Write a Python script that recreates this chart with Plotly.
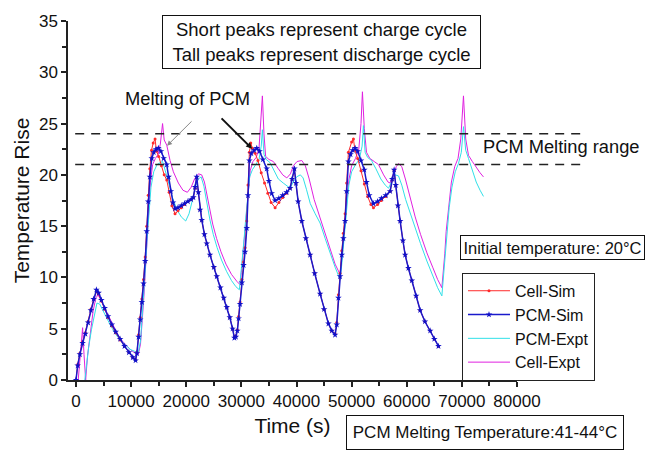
import plotly.graph_objects as go

# ---------------- data ----------------
pcm_sim_x = [0, 300, 700, 1200, 1700, 2200, 2700, 3200, 3700, 4100, 4600, 5200, 5800, 6500, 7200, 8000, 8800, 9600,
             10300, 10800, 11050, 11350, 11650, 11950, 12250, 12550, 12830, 13100, 13400, 13740, 14100, 14500, 14940,
             15400, 15900, 16460, 16800, 17200, 17600, 17970, 18500, 19100, 19700, 20300, 20900, 21290, 21600, 21900,
             22200, 22500, 22810, 23300, 23720, 24300, 25000, 25530, 26200, 26800, 27350, 27900, 28400, 28730, 29000,
             29270, 29500, 29760, 30100, 30400, 30670, 30980, 31200, 31450, 31800, 32300, 32790, 33300, 33900, 34600,
             35000, 35500, 36120, 36800, 37500, 38200, 38840, 39200, 39620, 39900, 40300, 40960, 41700, 42470, 43300,
             44280, 45000, 45790, 46400, 47000, 47300, 47600, 47900, 48220, 48500, 48820, 49100, 49420, 49800, 50200,
             50640, 51100, 51700, 52300, 52700, 53200, 53960, 54700, 55400, 56200, 56990, 57350, 57710, 58000, 58400,
             58800, 59300, 59710, 60300, 60920, 61700, 62430, 63300, 64250, 65000, 65750]
pcm_sim_y = [0, 1.4, 2.5, 3.6, 4.5, 5.6, 6.8, 7.9, 8.8, 8.5, 7.8, 7.0, 6.2, 5.4, 4.7, 4.0, 3.3, 2.7,
             2.2, 1.9, 2.6, 4.2, 5.9, 7.6, 9.4, 11.6, 14.5, 17.4, 19.8, 21.6, 22.2, 22.5, 22.6,
             22.3, 21.6, 21.0, 19.8, 18.4, 17.3, 16.7, 16.8, 17.0, 17.2, 17.4, 17.6, 17.8, 18.8, 19.8,
             18.3, 16.6, 15.6, 14.2, 13.3, 12.2, 11.0, 10.1, 9.0, 8.0, 7.1, 6.1, 5.0, 4.1, 4.2,
             4.8, 6.0, 7.4, 9.5, 11.2, 12.5, 14.8, 18.0, 21.4, 22.1, 22.4, 22.6, 22.3, 21.5, 20.6,
             19.4, 18.2, 17.5, 17.7, 18.0, 18.3, 18.7, 19.6, 20.6, 19.2, 17.4, 15.5, 13.8, 12.2, 10.4,
             8.4, 6.9, 5.5, 4.8, 4.4, 5.4, 8.0, 10.1, 12.2, 13.8, 15.5, 18.4, 21.3, 22.0, 22.4,
             22.6, 22.3, 21.4, 20.5, 19.3, 18.0, 17.2, 17.4, 17.7, 18.0, 18.4, 19.6, 20.5, 19.0, 17.0,
             15.5, 13.6, 12.2, 10.9, 9.7, 8.2, 6.8, 5.7, 4.8, 4.0, 3.3]

cell_sim_x = [0, 300, 700, 1200, 1700, 2200, 2700, 3200, 3700, 4100, 4600, 5200, 5800, 6500, 7200, 8000, 8800, 9600,
              10300, 10800, 11050, 11350, 11650, 11950, 12250, 12550, 12830, 13100, 13400, 13700, 14000, 14340, 14600,
              15000, 15500, 16000, 16460, 16900, 17400, 17970, 18500, 19100, 19700, 20300, 20900, 21290, 21600, 21900,
              22200, 22500, 22810, 23300, 23720, 24300, 25000, 25530, 26200, 26800, 27350, 27900, 28400, 28730, 29000,
              29270, 29500, 29760, 30100, 30400, 30670, 30980, 31200, 31450, 31700, 32000, 32500, 33000, 33600, 34200,
              34800, 35400, 36120, 36800, 37500, 38200, 38840, 39200, 39620, 39900, 40300, 40960, 41700, 42470, 43300,
              44280, 45000, 45790, 46400, 47000, 47300, 47600, 47900, 48220, 48500, 48820, 49100, 49420, 50000, 50330,
              50600, 51100, 51700, 52300, 52900, 53500, 53960, 54700, 55400, 56200, 56990, 57350, 57710, 58000, 58400,
              58800, 59300, 59710, 60300, 60920, 61700, 62430, 63300, 64250, 65000, 65750]
cell_sim_y = [0, 1.5, 2.6, 3.7, 4.6, 5.7, 6.9, 7.9, 8.6, 8.4, 7.7, 6.9, 6.1, 5.3, 4.6, 3.9, 3.3, 2.7,
              2.2, 2.0, 2.7, 4.4, 6.1, 7.9, 9.8, 12.0, 15.0, 18.0, 20.6, 22.4, 23.1, 23.5, 22.3,
              21.8, 20.9, 20.0, 19.5, 18.3, 17.0, 16.2, 16.5, 16.8, 17.1, 17.4, 17.6, 17.8, 18.7, 19.7,
              18.3, 16.6, 15.6, 14.2, 13.3, 12.2, 11.0, 10.1, 9.0, 8.0, 7.1, 6.1, 5.0, 4.2, 4.3,
              4.9, 6.2, 7.6, 9.8, 11.5, 12.9, 15.5, 19.0, 22.2, 23.1, 22.6, 22.1, 21.4, 20.2, 19.2,
              18.2, 17.3, 16.8, 17.3, 17.8, 18.2, 18.7, 19.6, 20.5, 19.2, 17.4, 15.5, 13.8, 12.2, 10.4,
              8.4, 6.9, 5.5, 4.8, 4.5, 5.6, 8.3, 10.4, 12.6, 14.3, 16.2, 19.2, 22.2, 23.2, 23.5,
              22.4, 21.6, 20.4, 19.1, 17.9, 17.1, 16.8, 17.1, 17.5, 17.9, 18.4, 19.5, 20.4, 19.0, 17.0,
              15.5, 13.6, 12.2, 10.9, 9.7, 8.2, 6.8, 5.7, 4.8, 4.0, 3.3]

pcm_expt_x = [1600, 1900, 2300, 2800, 3300, 3800, 4300, 5000, 5800, 6600, 7400, 8200, 9000, 9800, 10600, 11300,
              11700, 12000, 12300, 12600, 12900, 13200, 13600, 14100, 14700, 15300, 15700, 16200, 16800, 17500,
              18300, 19100, 19900, 20500, 21100, 21700, 22200, 22700, 23200, 23700, 24300, 24900, 25600, 26400,
              27300, 28200, 29000, 29640, 29900, 30200, 30500, 30800, 31100, 31500, 32000, 32600, 33200, 33600,
              33810, 34100, 34500, 35200, 35900, 36700, 37600, 38300, 38840, 39400, 40000, 40700, 41200, 41800,
              42500, 43400, 44280, 45200, 46100, 47000, 47600, 47910, 48200, 48500, 48800, 49100, 49500, 50000,
              50700, 51400, 51900, 52140, 52450, 52900, 53600, 54400, 55300, 56100, 56700, 57300, 57900, 58500,
              59100, 59800, 60600, 61500, 62500, 63650, 64700, 65600, 66370, 66600, 66900, 67270, 67700, 68200,
              68800, 69380, 69900, 70290, 70700, 71200, 71900, 72600, 73300, 73920]
pcm_expt_y = [0, 1.5, 3.2, 4.9, 6.3, 7.5, 7.4, 6.6, 5.8, 5.0, 4.3, 3.8, 3.4, 3.0, 2.8, 2.7,
              3.8, 6.0, 8.3, 11.0, 13.8, 16.3, 18.8, 20.3, 21.0, 21.2, 21.3, 20.4, 19.1, 17.8,
              16.6, 15.9, 15.5, 16.2, 17.5, 18.9, 19.6, 19.8, 18.9, 17.3, 15.6, 14.2, 12.9, 11.7,
              10.6, 9.7, 9.1, 8.8, 10.2, 12.0, 13.8, 15.8, 17.8, 19.8, 20.5, 21.0, 21.5, 22.8,
              24.4, 22.0, 21.5, 21.2, 20.4, 19.6, 19.2, 18.9, 18.7, 19.3, 19.8, 20.0, 19.7, 18.6,
              17.2, 16.2, 15.3, 13.8, 12.3, 11.0, 10.2, 9.8, 11.2, 13.0, 15.0, 17.0, 19.0, 20.3,
              21.0, 21.5, 22.8, 24.8, 22.2, 21.7, 21.4, 20.6, 19.6, 19.0, 18.7, 19.4, 20.0, 19.9,
              19.0, 17.6, 16.3, 15.0, 13.3, 11.6, 10.2, 9.0, 8.2, 9.6, 11.8, 14.3, 16.8, 18.8,
              20.3, 21.1, 22.2, 24.7, 22.4, 21.6, 20.4, 19.3, 18.5, 17.9]

cell_expt_x = [400, 700, 1000, 1200, 1450, 1750, 2100, 2600, 3100, 3600, 4000, 4500, 5200, 6000, 6800, 7600, 8400,
               9200, 10000, 10800, 11310, 11700, 12000, 12300, 12600, 12900, 13200, 13500, 13900, 14400, 14900,
               15300, 15700, 16000, 16460, 17060, 17660, 18570, 19400, 20200, 20900, 21500, 22200, 22800, 23300,
               23800, 24300, 24800, 25500, 26300, 27200, 28200, 29200, 29760, 30000, 30300, 30600, 30900, 31200,
               31600, 32100, 32700, 33200, 33550, 33810, 34100, 34400, 35000, 35800, 36700, 37500, 38240, 38900,
               39440, 40100, 40960, 41600, 42300, 43200, 44280, 45200, 46100, 47000, 47900, 48200, 48500, 48800,
               49100, 49500, 50000, 50700, 51300, 51700, 51960, 52300, 52700, 53300, 54100, 54870, 55800, 56600,
               57000, 57600, 58100, 58500, 59100, 59800, 60600, 61530, 62500, 63650, 64700, 65600, 66370, 66600,
               66900, 67150, 67600, 68100, 68700, 69300, 69800, 70290, 70700, 71200, 71900, 72600, 73300, 73920]
cell_expt_y = [0, 2.2, 4.2, 5.1, 2.5, 0, 2.4, 4.8, 6.7, 8.0, 8.3, 7.8, 7.0, 6.1, 5.2, 4.4, 3.8,
               3.3, 2.9, 2.6, 2.5, 3.5, 5.5, 8.0, 10.8, 13.8, 16.7, 19.3, 21.0, 21.6, 22.0,
               23.0, 25.0, 23.4, 22.9, 21.4, 20.3, 19.2, 18.5, 18.3, 18.8, 19.6, 20.1, 20.0, 19.3,
               17.8, 16.4, 15.2, 13.8, 12.5, 11.3, 10.3, 9.6, 9.3, 10.5, 12.3, 14.2, 16.2, 18.3,
               20.4, 21.3, 21.7, 22.6, 25.0, 27.7, 24.0, 21.8, 21.5, 21.3, 20.6, 20.0, 19.7, 20.1,
               20.9, 21.3, 21.4, 20.9, 19.6, 17.6, 15.8, 14.2, 12.7, 11.3, 10.3, 11.6, 13.4, 15.4,
               17.4, 19.5, 20.9, 21.6, 22.5, 25.0, 28.1, 24.5, 22.2, 21.6, 21.3, 21.0, 20.0, 19.3,
               19.2, 20.1, 20.8, 21.1, 20.8, 19.5, 17.8, 15.9, 14.2, 12.4, 11.0, 9.8, 9.0, 10.3,
               12.3, 14.5, 17.1, 19.3, 20.8, 21.6, 23.5, 27.7, 23.5, 21.9, 21.3, 20.7, 20.2, 19.8]

melt_range = [21, 24]
x_ticks = [0, 10000, 20000, 30000, 40000, 50000, 60000, 70000, 80000]
y_ticks = [0, 5, 10, 15, 20, 25, 30, 35]

FONT = "Liberation Sans, Arial, Helvetica, sans-serif"

fig = go.Figure()

# drawing order: experiments first, simulations on top
fig.add_trace(go.Scatter(x=cell_expt_x, y=cell_expt_y, name="Cell-Expt", mode="lines",
                         line=dict(color="#e020e0", width=1), legendrank=4))
fig.add_trace(go.Scatter(x=pcm_expt_x, y=pcm_expt_y, name="PCM-Expt", mode="lines",
                         line=dict(color="#30e0e8", width=1), legendrank=3))
fig.add_trace(go.Scatter(x=cell_sim_x, y=cell_sim_y, name="Cell-Sim", mode="lines+markers",
                         line=dict(color="#ff2a2a", width=1),
                         marker=dict(symbol="circle", size=3, color="#ff2a2a"), legendrank=1))
fig.add_trace(go.Scatter(x=pcm_sim_x, y=pcm_sim_y, name="PCM-Sim", mode="lines+markers",
                         line=dict(color="#1a1acc", width=1.5),
                         marker=dict(symbol="star", size=5, color="#1010c8"), legendrank=2))

# dashed melting-range lines (extend past the axis to the right)
for yv in melt_range:
    fig.add_shape(type="line", xref="paper", yref="y", x0=0.016, x1=1.145, y0=yv, y1=yv,
                  line=dict(color="#222222", width=1.5, dash="9px,7px"))

annots = [
    dict(text="Short peaks represent charge cycle<br>Tall peaks represent discharge cycle",
         xref="paper", yref="paper", x=0.5650, y=0.9404, xanchor="center", yanchor="middle",
         showarrow=False, font=dict(size=18.5, color="#111"), bordercolor="#111", borderwidth=1,
         borderpad=3, width=311, height=46, bgcolor="white"),
    dict(text="PCM Melting range", xref="paper", yref="paper", x=1.098, y=0.6496,
         xanchor="center", yanchor="middle", showarrow=False, font=dict(size=18.3, color="#111")),
    dict(text="Melting of PCM", xref="x", yref="y", x=20145, y=27.4, xanchor="center",
         yanchor="middle", showarrow=False, font=dict(size=18.3, color="#111")),
    dict(text="Initial temperature: 20°C", xref="paper", yref="paper", x=1.079, y=0.3684,
         xanchor="center", yanchor="middle", showarrow=False, font=dict(size=16.5, color="#111"),
         bordercolor="#111", borderwidth=1, borderpad=1, width=181, height=21, bgcolor="white"),
    dict(text="PCM Melting Temperature:41-44°C", xref="paper", yref="paper", x=0.9287, y=-0.1468,
         xanchor="center", yanchor="middle", showarrow=False, font=dict(size=17, color="#111"),
         bordercolor="#111", borderwidth=1, borderpad=3, width=270, height=27, bgcolor="white"),
    # arrows pointing to the melting plateau
    dict(text="", xref="x", yref="y", x=16515, y=22.84, axref="x", ayref="y", ax=21234, ay=25.36,
         showarrow=True, arrowhead=2, arrowsize=1, arrowwidth=1, arrowcolor="#888888"),
    dict(text="", xref="x", yref="y", x=31942, y=22.55, axref="x", ayref="y", ax=26134, ay=25.65,
         showarrow=True, arrowhead=2, arrowsize=0.6, arrowwidth=2, arrowcolor="#111111"),
]

fig.update_layout(
    width=650, height=451,
    margin=dict(l=68, r=133, t=18, b=71, pad=0),
    paper_bgcolor="white", plot_bgcolor="white",
    font=dict(family=FONT, color="#111"),
    showlegend=True,
    legend=dict(x=0.8775, y=0.2985, xanchor="left", yanchor="top",
                bordercolor="#222", borderwidth=1, bgcolor="white",
                font=dict(size=16, family=FONT, color="#111"),
                itemwidth=42, tracegroupgap=0),
    annotations=annots,
    xaxis=dict(range=[-1452, 80000], tickvals=x_ticks, tickformat="d",
               ticks="outside", ticklen=5, tickwidth=1.5, tickcolor="#222",
               minor=dict(ticks="outside", ticklen=4, dtick=5000, tick0=0, tickcolor="#222", tickwidth=1.5),
               showline=True, linecolor="#222", linewidth=1.5, showgrid=False, zeroline=False,
               tickfont=dict(size=17), title=dict(text="Time (s)", font=dict(size=21), standoff=8)),
    yaxis=dict(range=[0, 35], tickvals=y_ticks,
               ticks="outside", ticklen=5, tickwidth=1.5, tickcolor="#222",
               minor=dict(ticks="outside", ticklen=4, dtick=2.5, tick0=0, tickcolor="#222", tickwidth=1.5),
               showline=True, linecolor="#222", linewidth=1.5, showgrid=False, zeroline=False,
               tickfont=dict(size=17), title=dict(text="Temperature Rise", font=dict(size=21), standoff=4)),
)

fig.write_html("out.html")
